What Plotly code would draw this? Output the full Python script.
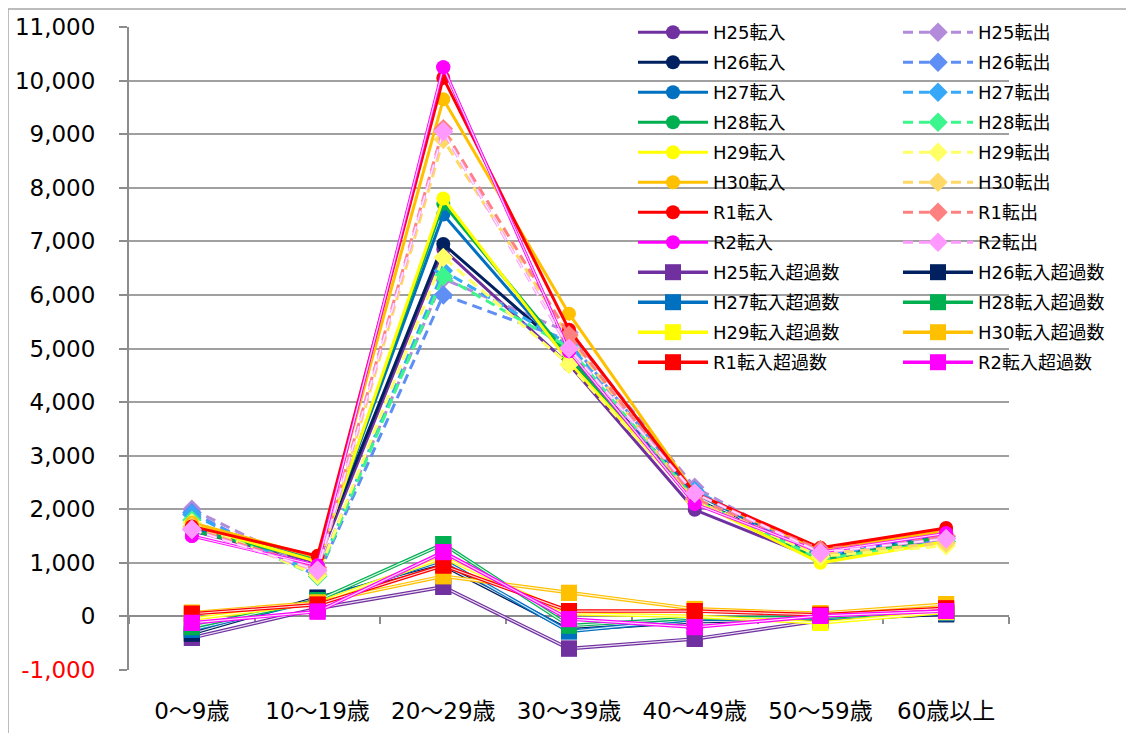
import plotly.graph_objects as go

# ---------------- data ----------------
categories = ["0～9歳", "10～19歳", "20～29歳", "30～39歳", "40～49歳", "50～59歳", "60歳以上"]
years = ["H25", "H26", "H27", "H28", "H29", "H30", "R1", "R2"]

# 転入 (in-migration)
in_H25 = [1600, 1000, 6850, 4700, 1990, 1050, 1450]
in_H26 = [1620, 1100, 6950, 4900, 2200, 1080, 1500]
in_H27 = [1650, 1080, 7500, 4800, 2300, 1100, 1550]
in_H28 = [1600, 1050, 7700, 4850, 2150, 1050, 1500]
in_H29 = [1700, 1020, 7800, 4750, 2150, 1000, 1400]
in_H30 = [1750, 1100, 9650, 5650, 2300, 1230, 1600]
in_R1 = [1680, 1130, 10050, 5350, 2300, 1280, 1650]
in_R2 = [1500, 950, 10250, 4950, 2100, 1200, 1550]

# 転出 (out-migration)
out_H25 = [2000, 850, 6300, 5300, 2410, 1130, 1400]
out_H26 = [1940, 750, 6000, 5150, 2300, 1130, 1460]
out_H27 = [1900, 780, 6450, 5080, 2350, 1140, 1490]
out_H28 = [1800, 750, 6350, 5020, 2180, 1070, 1400]
out_H29 = [1750, 770, 6700, 4700, 2150, 1120, 1320]
out_H30 = [1680, 840, 8900, 5210, 2160, 1170, 1370]
out_R1 = [1630, 910, 9100, 5250, 2200, 1250, 1500]
out_R2 = [1620, 860, 9050, 5000, 2300, 1190, 1450]

# 転入超過数 (net in-migration)
ex_H25 = [-400, 150, 550, -600, -420, -80, 50]
ex_H26 = [-320, 350, 950, -250, -100, -50, 40]
ex_H27 = [-250, 300, 1050, -280, -50, -40, 60]
ex_H28 = [-200, 300, 1350, -170, -30, -20, 100]
ex_H29 = [-50, 250, 1100, 50, 0, -120, 80]
ex_H30 = [70, 260, 750, 440, 140, 60, 230]
ex_R1 = [50, 220, 950, 100, 100, 30, 150]
ex_R2 = [-120, 90, 1200, -50, -200, 10, 100]

y_tickvals = [-1000, 0, 1000, 2000, 3000, 4000, 5000, 6000, 7000, 8000, 9000, 10000, 11000]
y_ticktext = ['<span style="color:#FF0000">-1,000</span>', "0", "1,000", "2,000", "3,000", "4,000",
              "5,000", "6,000", "7,000", "8,000", "9,000", "10,000", "11,000"]

ins = [in_H25, in_H26, in_H27, in_H28, in_H29, in_H30, in_R1, in_R2]
outs = [out_H25, out_H26, out_H27, out_H28, out_H29, out_H30, out_R1, out_R2]
exs = [ex_H25, ex_H26, ex_H27, ex_H28, ex_H29, ex_H30, ex_R1, ex_R2]

# ---------------- style ----------------
c_in = ["#7030A0", "#002060", "#0070C0", "#00B050", "#FFFF00", "#FFC000", "#FF0000", "#FF00FF"]
c_out = ["#B38BDB", "#5F8EF5", "#36A8F7", "#3CF58C", "#FFFF66", "#FFD966", "#FF8080", "#FF99FF"]
FONT = "DejaVu Sans, Noto Sans CJK JP, sans-serif"

fig = go.Figure()

def add_series(name, y, color, symbol, msize, lwidth, dash, legend, group, double):
    fig.add_trace(go.Scatter(
        x=categories, y=y, mode="lines+markers", name=name,
        line=dict(color=color, width=lwidth, dash=dash),
        marker=dict(symbol=symbol, size=msize, color=color, line=dict(width=0)),
        legend=legend, legendgroup=group, hoverinfo="name+y"))
    if double:
        fig.add_trace(go.Scatter(
            x=categories, y=y, mode="lines", showlegend=False,
            line=dict(color="rgba(255,255,255,0.85)", width=1.2, dash=dash),
            legend=legend, legendgroup=group, hoverinfo="skip"))
        fig.add_trace(go.Scatter(
            x=categories, y=y, mode="markers", showlegend=False,
            marker=dict(symbol=symbol, size=msize, color=color, line=dict(width=0)),
            legend=legend, legendgroup=group, hoverinfo="skip"))

for i, yr in enumerate(years):
    add_series(f"{yr}転入", ins[i], c_in[i], "circle", 14, 3, "solid", "legend",
               f"in{yr}", yr == "R2")
    add_series(f"{yr}転出", outs[i], c_out[i], "diamond", 15, 3, "10px,6px", "legend2",
               f"out{yr}", yr == "R2")

for i, yr in enumerate(years):
    add_series(f"{yr}転入超過数", exs[i], c_in[i], "square", 16, 3.6, "solid",
               "legend" if i % 2 == 0 else "legend2", f"ex{yr}", True)

# dummy trace to carry the zero-line axis
fig.add_trace(go.Scatter(x=categories, y=[None] * len(categories), xaxis="x2",
                         mode="lines", showlegend=False, hoverinfo="skip"))

# page body has an 8px margin: work in figure coordinates = viewport - 8
OFF = 8
W, H = 1126, 725
L, T = 129 - OFF, 27 - OFF
R, B = W - (1009 - OFF), H - (670 - OFF)
pw, ph = W - L - R, H - T - B

def px_x(p):
    return (p - OFF - L) / pw

def px_y(p):
    return 1 - (p - OFF - T) / ph

legend_common = dict(
    xanchor="left", yanchor="top", bgcolor="rgba(0,0,0,0)", borderwidth=0,
    font=dict(family=FONT, size=18, color="#000000"), tracegroupgap=3.6,
    traceorder="grouped", orientation="v", itemwidth=70, maxheight=900,
)

fig.update_layout(
    width=W, height=H,
    margin=dict(l=L, r=R, t=T, b=B, autoexpand=False),
    paper_bgcolor="#FFFFFF", plot_bgcolor="#FFFFFF",
    font=dict(family=FONT, size=23, color="#000000"),
    xaxis=dict(type="category", range=[-0.5, 6.5], showgrid=False, showline=False,
               ticks="", tickfont=dict(size=23), ticklabelstandoff=25, fixedrange=True,
               automargin=False),
    xaxis2=dict(type="category", overlaying="x", anchor="free", position=1 / 12,
                matches="x", range=[-0.5, 6.5], showgrid=False, showline=True,
                linecolor="#8C8C8C", linewidth=2, ticks="outside", tickson="boundaries",
                ticklen=7, tickwidth=2, tickcolor="#8C8C8C", showticklabels=False,
                layer="below traces"),
    yaxis=dict(range=[-1000, 11000], tickvals=y_tickvals, ticktext=y_ticktext,
               showgrid=True, gridcolor="#A0A0A0", gridwidth=1.5, zeroline=False,
               showline=True, linecolor="#8C8C8C", linewidth=2, ticks="outside",
               ticklen=8, tickwidth=2, tickcolor="#8C8C8C", tickfont=dict(size=23),
               ticklabelstandoff=19, layer="below traces", automargin=False),
    legend=dict(x=px_x(633), y=px_y(14), **legend_common),
    legend2=dict(x=px_x(898), y=px_y(14), **legend_common),
    showlegend=True,
    shapes=[
        dict(type="rect", xref="paper", yref="paper", x0=px_x(608), x1=px_x(1134),
             y0=px_y(378), y1=px_y(12), fillcolor="#FFFFFF", line=dict(width=0),
             layer="between"),
        dict(type="line", xref="paper", yref="paper", x0=px_x(8), x1=px_x(1134),
             y0=px_y(9), y1=px_y(9), line=dict(color="#A6A6A6", width=1.5), layer="above"),
        dict(type="line", xref="paper", yref="paper", x0=px_x(8), x1=px_x(8),
             y0=px_y(9), y1=px_y(733), line=dict(color="#A6A6A6", width=1.5), layer="above"),
    ],
)

fig.write_html("out.html")
